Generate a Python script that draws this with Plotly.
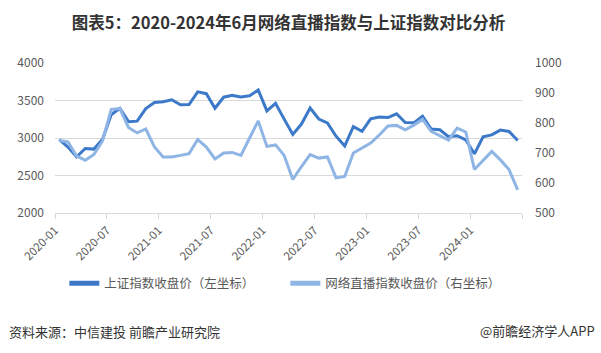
import plotly.graph_objects as go

# ---------------- data ----------------
months = [f"{y}-{m:02d}" for y in range(2020, 2025) for m in range(1, 13)][:54]

sh_index = [2977, 2880, 2750, 2860, 2852, 2985, 3310, 3396, 3218, 3225, 3392, 3473,
            3483, 3509, 3442, 3447, 3615, 3591, 3397, 3544, 3568, 3547, 3564, 3640,
            3361, 3462, 3252, 3047, 3186, 3399, 3253, 3202, 3024, 2893, 3151, 3089,
            3256, 3280, 3273, 3323, 3205, 3202, 3291, 3120, 3110, 3019, 3030, 2975,
            2789, 3015, 3041, 3105, 3087, 2967]

live_index = [742, 737, 690, 676, 695, 740, 845, 848, 785, 767, 780, 720,
              687, 687, 692, 698, 745, 720, 680, 700, 702, 692, 750, 807,
              722, 727, 692, 612, 655, 695, 683, 687, 617, 622, 700, 717,
              733, 760, 790, 792, 777, 793, 812, 772, 758, 743, 783, 770,
              645, 675, 705, 677, 645, 577]

tick_labels = ["2020-01", "2020-07", "2021-01", "2021-07", "2022-01",
               "2022-07", "2023-01", "2023-07", "2024-01", ""]

names = ["上证指数收盘价（左坐标）", "网络直播指数收盘价（右坐标）"]
title_text = "图表5：2020-2024年6月网络直播指数与上证指数对比分析"
source_text = "资料来源：中信建投 前瞻产业研究院"
brand_text = "@前瞻经济学人APP"

# ---------------- figure ----------------
FONT = "Noto Sans CJK SC"
GRAY = "#595959"
GRID = "#d9d9d9"
DARK = "#3d79c9"
LIGHT = "#8fb5e5"

x = list(range(len(months)))

fig = go.Figure()
fig.add_trace(go.Scatter(x=x, y=sh_index, name=names[0], mode="lines",
                         line=dict(color=DARK, width=3), yaxis="y"))
fig.add_trace(go.Scatter(x=x, y=live_index, name=names[1], mode="lines",
                         line=dict(color=LIGHT, width=3), yaxis="y2"))

tickvals = [-0.5 + 6 * k for k in range(len(tick_labels))]

fig.update_layout(
    width=601, height=353,
    margin=dict(l=55, r=79, t=63, b=140),
    paper_bgcolor="white", plot_bgcolor="white",
    font=dict(family=FONT, color=GRAY, size=12),
    showlegend=True,
    xaxis=dict(range=[-0.5, 53.5], tickmode="array", tickvals=tickvals,
               ticktext=tick_labels, tickangle=-45, showgrid=False,
               showline=True, linecolor=GRID, linewidth=1,
               ticks="outside", ticklen=5, tickcolor=GRID,
               tickfont=dict(size=11.5, color=GRAY), zeroline=False),
    yaxis=dict(range=[2000, 4000], dtick=500, showgrid=True, gridcolor=GRID,
               gridwidth=1, zeroline=False, showline=False,
               tickfont=dict(size=12, color=GRAY), ticks="", ticklabelstandoff=10),
    yaxis2=dict(range=[500, 1000], dtick=100, overlaying="y", side="right",
                showgrid=False, zeroline=False, showline=False,
                tickfont=dict(size=12, color=GRAY), ticks="", ticklabelstandoff=12),
    legend=dict(orientation="h", x=0.02, xanchor="left", y=-0.47, yanchor="middle",
                font=dict(size=12.5, color=GRAY), entrywidth=176,
                entrywidthmode="pixels", bgcolor="rgba(0,0,0,0)",
                itemsizing="constant"),
    title=dict(text=f"<b>{title_text}</b>", x=0.5, xanchor="center",
               xref="paper", y=1 - 23 / 353, yanchor="middle", yref="container",
               font=dict(size=16.5, color="#333333", family=FONT)),
)

# footer texts (paper coordinates relative to plot area)
fig.add_annotation(text=source_text, xref="paper", yref="paper",
                   x=(7 - 55) / 467, y=-(331 - 213) / 150, xanchor="left",
                   yanchor="middle", showarrow=False,
                   font=dict(size=13, color="#333333", family=FONT))
fig.add_annotation(text=brand_text, xref="paper", yref="paper",
                   x=(597 - 55) / 467, y=-(330 - 213) / 150, xanchor="right",
                   yanchor="middle", showarrow=False,
                   font=dict(size=13, color="#333333", family=FONT))

fig.write_html("out.html")
